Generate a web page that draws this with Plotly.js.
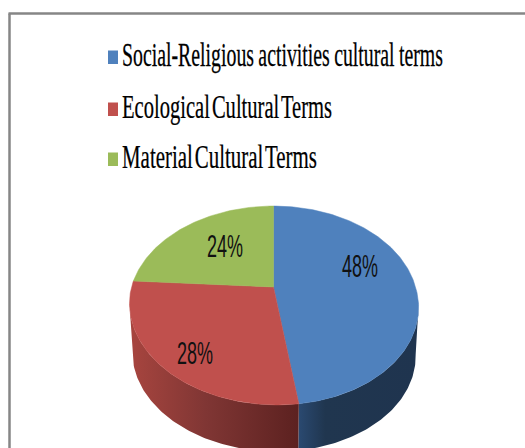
<!DOCTYPE html>
<html>
<head>
<meta charset="utf-8">
<script src="https://cdn.plot.ly/plotly-3.0.1.min.js"></script>
<style>html,body{margin:0;padding:0;background:#fff;overflow:hidden}</style>
</head>
<body>
<div id="chart" style="width:525px;height:448px"></div>
<script>
// Share of cultural terms by category
const categories = [
  "Social-Religious activities cultural terms",
  "Ecological Cultural Terms",
  "Material Cultural Terms"
];
const percentages = [48, 28, 24];
const topColors = ["#4F81BD", "#C0504D", "#9BBB59"];

// Tilted-disc projection, in the pixel-sized units of the hidden axes
const apexX = 273.5, apexY = 287;
const radiusX = 142, radiusY = 96, tilt = 0.186, lowerSkew = 0.03;
const wallDepth = 49, wallShrink = 0.98;

function rim(angle, depth, shrink) {
  const u = Math.sin(angle), v = Math.cos(angle), d = 1 + tilt * v;
  const dy = -shrink * radiusY * v / d;
  return [apexX + shrink * radiusX * u / d + lowerSkew * Math.max(0, dy),
          apexY + dy + depth];
}
function arc(from, to, depth, shrink) {
  const steps = Math.max(2, Math.ceil(Math.abs(to - from) * 60)), pts = [];
  for (let i = 0; i <= steps; i++) pts.push(rim(from + (to - from) * i / steps, depth, shrink));
  return pts;
}

// Cumulative slice boundaries, clockwise from twelve o'clock
const total = percentages.reduce((a, b) => a + b, 0);
const bounds = [0];
percentages.forEach(p => bounds.push(bounds[bounds.length - 1] + p / total * 2 * Math.PI));

// Visible outer wall runs between the two silhouette angles
const silhouetteRight = Math.acos(-tilt);
const silhouetteLeft = 2 * Math.PI - silhouetteRight;

function wallTrace(from, to, gradient) {
  const pts = arc(from, to, 0, 1).concat(arc(to, from, wallDepth, wallShrink));
  pts.push(pts[0]);
  return {
    type: "scatter", mode: "lines", hoverinfo: "skip", showlegend: false,
    x: pts.map(p => p[0]), y: pts.map(p => p[1]),
    fill: "toself", line: {width: 0, color: "rgba(0,0,0,0)"},
    fillcolor: gradient.colorscale[0][1], fillgradient: gradient
  };
}

const traces = [
  wallTrace(silhouetteRight, bounds[1], {
    type: "horizontal", start: 299, stop: 418,
    colorscale: [[0, "#2A4970"], [0.22, "#20364F"], [1, "#1F344F"]]
  }),
  wallTrace(bounds[1], silhouetteLeft, {
    type: "horizontal", start: 129, stop: 299,
    colorscale: [[0, "#A8453F"], [0.45, "#803634"], [1, "#5C2120"]]
  })
];

// Top face of each slice
percentages.forEach((p, i) => {
  const pts = [[apexX, apexY]].concat(arc(bounds[i], bounds[i + 1], 0, 1));
  pts.push([apexX, apexY]);
  traces.push({
    type: "scatter", mode: "lines", hoverinfo: "skip", showlegend: false,
    name: categories[i],
    x: pts.map(q => q[0]), y: pts.map(q => q[1]),
    fill: "toself", fillcolor: topColors[i],
    line: {width: 0.5, color: topColors[i]}
  });
});

// Key rows and percentage labels
const keyLeft = 122;
const keyRows = [55, 107, 157];
const keyWidths = [321, 210, 195];
const keyWordGaps = [-1, -5, -5];
const labelSpots = [[360, 266], [195, 353], [225, 246]];

const annotations = categories.map((c, i) => ({
  x: keyLeft, y: keyRows[i], xref: "x", yref: "y", xanchor: "left", yanchor: "middle",
  text: c, showarrow: false, borderpad: 0,
  font: {family: "Liberation Serif", size: 33, color: "#000"}
})).concat(percentages.map((p, i) => ({
  x: labelSpots[i][0], y: labelSpots[i][1], xref: "x", yref: "y",
  xanchor: "center", yanchor: "middle",
  text: p + "%", showarrow: false, borderpad: 0,
  font: {family: "Liberation Sans", size: 31, color: "#111"}
})));

const shapes = [
  {type: "line", x0: 9.5, x1: 9.5, y0: 13.5, y1: 448, line: {color: "#868686", width: 2.5}},
  {type: "line", x0: 8.5, x1: 525, y0: 13.5, y1: 13.5, line: {color: "#868686", width: 2.5}}
].concat(categories.map((c, i) => ({
  type: "rect", x0: 108, x1: 118, y0: keyRows[i] - 4.5, y1: keyRows[i] + 9,
  fillcolor: topColors[i], line: {width: 0}
})));

const layout = {
  width: 525, height: 448, margin: {l: 0, r: 0, t: 0, b: 0},
  paper_bgcolor: "#fff", plot_bgcolor: "#fff", showlegend: false,
  xaxis: {range: [0, 525], visible: false, fixedrange: true},
  yaxis: {range: [448, 0], visible: false, fixedrange: true},
  annotations, shapes
};

// The lettering is tall and narrow: squeeze a text to a given width,
// holding its left edge at the key column
function squeezeFromLeft(el, targetWidth) {
  const b = el.getBBox();
  const scaleX = targetWidth / b.width;
  const screenLeft = el.closest(".annotation") ? keyLeft : b.x;
  const parentShift = el.getScreenCTM().e - el.ownerSVGElement.getScreenCTM().e;
  el.setAttribute("transform",
    `translate(${screenLeft - parentShift} 0) scale(${scaleX} 1) translate(${-b.x} 0)`);
}
function squeezeFromCentre(el, targetWidth) {
  const b = el.getBBox();
  const cx = b.x + b.width / 2;
  el.setAttribute("transform",
    `translate(${cx} 0) scale(${targetWidth / b.width} 1) translate(${-cx} 0)`);
}

Plotly.newPlot("chart", traces, layout, {displayModeBar: false, staticPlot: true}).then(() => {
  const texts = document.querySelectorAll("#chart .annotation-text");
  texts.forEach((el, i) => {
    if (i < keyWidths.length) {
      el.style.wordSpacing = keyWordGaps[i] + "px";
      el.style.stroke = "#000";
      el.style.strokeWidth = "0.25px";
      squeezeFromLeft(el, keyWidths[i]);
    } else {
      squeezeFromCentre(el, 36);
    }
  });
});
</script>
</body>
</html>
